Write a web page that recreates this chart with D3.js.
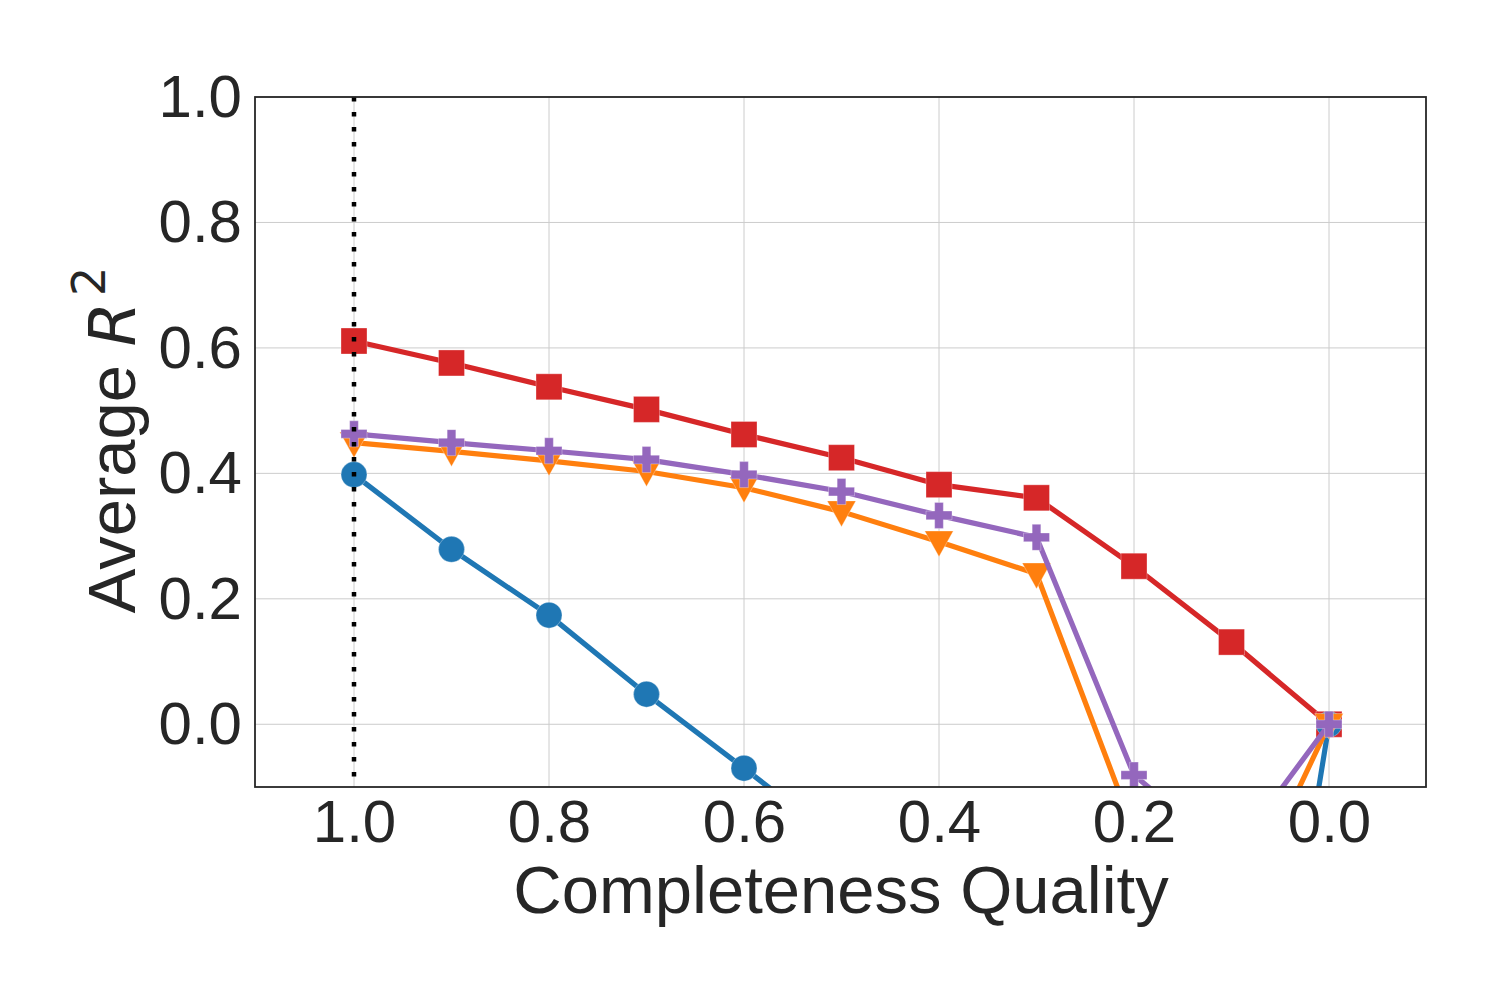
<!DOCTYPE html>
<html>
<head>
<meta charset="utf-8">
<script src="https://cdn.jsdelivr.net/npm/d3@7"></script>
<style>
  html, body { margin: 0; padding: 0; background: #fff; }
  svg text { font-family: "Liberation Sans", Arial, sans-serif; fill: #262626; }
</style>
</head>
<body>
<svg id="chart" width="1500" height="1000"></svg>
<script>
// ---- data ----
const quality = [1.0, 0.9, 0.8, 0.7, 0.6, 0.5, 0.4, 0.3, 0.2, 0.1, 0.0];
const seriesNames = ["red", "blue", "orange", "purple"];
const redValues    = [0.611, 0.576, 0.538, 0.502, 0.462, 0.425, 0.382, 0.361, 0.252, 0.131, 0.0];
const blueValues   = [0.398, 0.279, 0.174, 0.048, -0.07, -0.19, -0.33, -0.50, -0.70, -0.96, 0.0];
const orangeValues = [0.449, 0.435, 0.420, 0.403, 0.377, 0.339, 0.291, 0.240, -0.17, -0.33, 0.0];
const purpleValues = [0.463, 0.449, 0.436, 0.422, 0.398, 0.371, 0.333, 0.298, -0.081, -0.21, 0.0];
const xTicks = [1.0, 0.8, 0.6, 0.4, 0.2, 0.0];
const yTicks = [0.0, 0.2, 0.4, 0.6, 0.8, 1.0];
const refLineX = 1.0;

const series = [
  { values: redValues,    color: "#d62728", marker: "square" },
  { values: blueValues,   color: "#1f77b4", marker: "circle" },
  { values: orangeValues, color: "#ff7f0e", marker: "triangleDown" },
  { values: purpleValues, color: "#9467bd", marker: "plus" }
];

// ---- layout ----
const L = 255, R = 1426, T = 97, B = 787;
const svg = d3.select("#chart");
const x = d3.scaleLinear().domain([1.1, -0.1]).range([256.5, 1426.5]);
const y = d3.scaleLinear().domain([-0.1, 1.0]).range([B, T]);

svg.append("defs").append("clipPath").attr("id", "plotclip")
  .append("rect").attr("x", L).attr("y", T).attr("width", R - L).attr("height", B - T);

// grid
const grid = svg.append("g");
grid.selectAll("line.gx").data(xTicks).enter().append("line")
  .attr("x1", d => x(d)).attr("x2", d => x(d)).attr("y1", T).attr("y2", B)
  .attr("stroke", "#cccccc").attr("stroke-width", 1);
grid.selectAll("line.gy").data(yTicks).enter().append("line")
  .attr("y1", d => y(d)).attr("y2", d => y(d)).attr("x1", L).attr("x2", R)
  .attr("stroke", "#cccccc").attr("stroke-width", 1);

// axes (labels only, no tick marks)
const xAxis = d3.axisBottom(x).tickValues(xTicks).tickFormat(d3.format(".1f")).tickSize(0).tickPadding(12);
const gx = svg.append("g").attr("transform", `translate(0,${B})`).call(xAxis);
gx.select(".domain").remove();
gx.selectAll("text").style("font-size", "60px").attr("fill", "#262626")
  .style("font-family", "'Liberation Sans', Arial, sans-serif");

const yAxis = d3.axisLeft(y).tickValues(yTicks).tickFormat(d3.format(".1f")).tickSize(0).tickPadding(13);
const gy = svg.append("g").attr("transform", `translate(${L},0)`).call(yAxis);
gy.select(".domain").remove();
gy.selectAll("text").style("font-size", "60px").attr("fill", "#262626")
  .style("font-family", "'Liberation Sans', Arial, sans-serif");

// series
const plot = svg.append("g").attr("clip-path", "url(#plotclip)");
const line = d3.line().x((d, i) => x(quality[i])).y(d => y(d));

function markerPath(type, s) {
  const h = s / 2;
  if (type === "square") return `M${-h},${-h}H${h}V${h}H${-h}Z`;
  if (type === "circle") return `M${h},0A${h},${h} 0 1,1 ${-h},0A${h},${h} 0 1,1 ${h},0Z`;
  if (type === "triangleDown") {
    const w = s * 0.55;
    return `M${-w},${-w * 0.75}L${w},${-w * 0.75}L0,${w * 1.05}Z`;
  }
  if (type === "plus") {
    const a = s / 2, t = s / 6;
    return `M${-t},${-a}H${t}V${-t}H${a}V${t}H${t}V${a}H${-t}V${t}H${-a}V${-t}H${-t}Z`;
  }
}

series.forEach(sr => {
  const g = plot.append("g");
  g.append("path").datum(sr.values).attr("d", line)
    .attr("fill", "none").attr("stroke", sr.color).attr("stroke-width", 5.2)
    .attr("stroke-linejoin", "round");
  g.selectAll("path.m").data(sr.values).enter().append("path")
    .attr("transform", (d, i) => `translate(${x(quality[i])},${y(d)})`)
    .attr("d", markerPath(sr.marker, 26))
    .attr("fill", sr.color).attr("stroke", "#fff").attr("stroke-opacity", 0.4).attr("stroke-width", 0.8);
});

// dotted reference line
svg.append("line")
  .attr("x1", x(refLineX)).attr("x2", x(refLineX)).attr("y1", T).attr("y2", B)
  .attr("stroke", "#000").attr("stroke-width", 4.5).attr("stroke-dasharray", "4.5,10.5");

// spines
svg.append("rect").attr("x", L).attr("y", T).attr("width", R - L).attr("height", B - T)
  .attr("fill", "none").attr("stroke", "#262626").attr("stroke-width", 1.8);

// axis labels
svg.append("text").attr("x", 841).attr("y", 913).attr("text-anchor", "middle")
  .style("font-size", "67px").text("Completeness Quality");

const yl = svg.append("text").attr("transform", `translate(135,440) rotate(-90)`)
  .attr("text-anchor", "middle").style("font-size", "67px");
yl.append("tspan").text("Average ");
yl.append("tspan").style("font-family", "'DejaVu Sans', sans-serif").style("font-style", "italic").style("font-size", "64px").text("R");
yl.append("tspan").attr("dy", -30).attr("dx", 6).style("font-family", "'DejaVu Sans', sans-serif").style("font-size", "46px").text("2");
</script>
</body>
</html>
